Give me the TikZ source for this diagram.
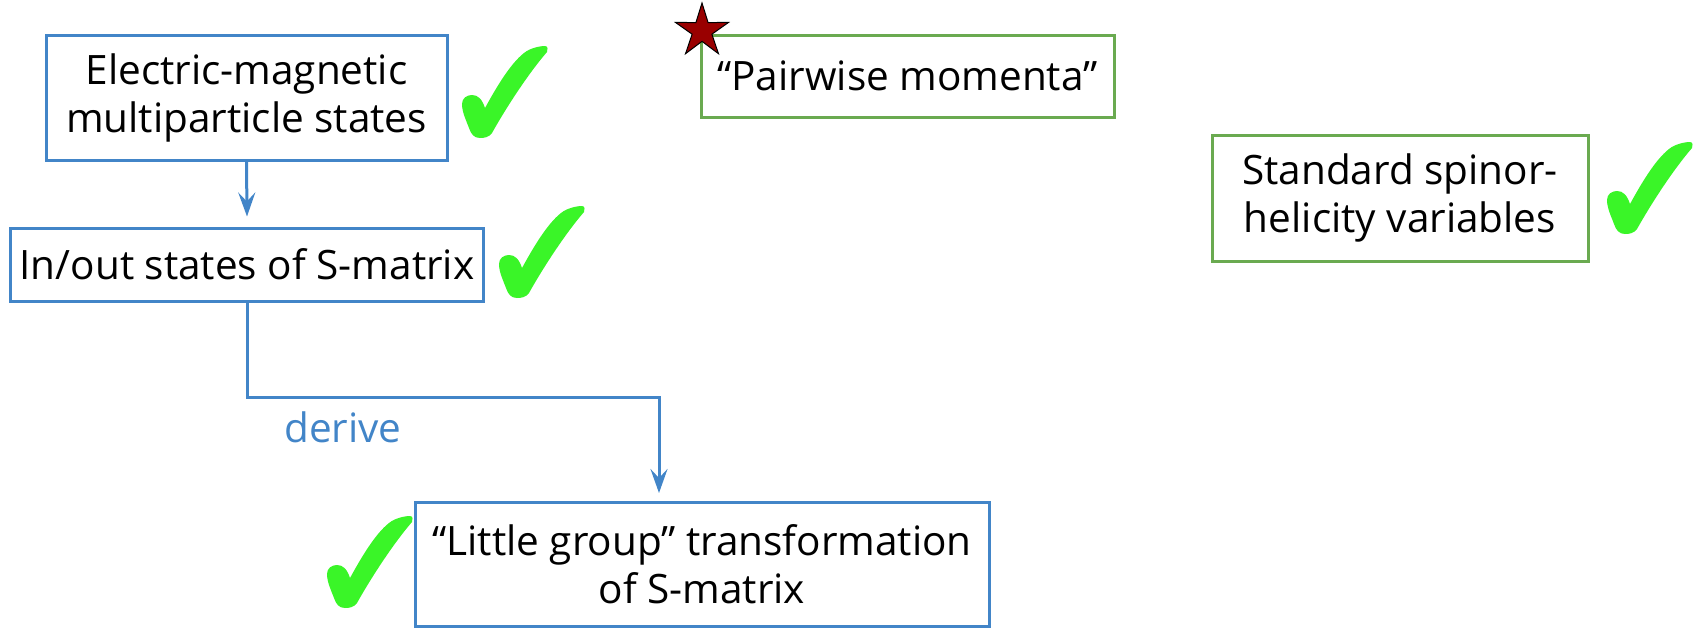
\documentclass[tikz,border=0pt]{standalone}
\usepackage{fontspec}
\setmainfont{Open Sans}
\usetikzlibrary{arrows.meta,shapes.geometric}

\definecolor{flowblue}{RGB}{66,133,200}
\definecolor{boxgreen}{RGB}{106,170,80}
\definecolor{tickgreen}{RGB}{58,245,40}
\definecolor{starred}{RGB}{153,0,0}

\tikzset{
  x=1pt, y=-1pt,
  bigtext/.style={font=\fontsize{40.5}{48}\selectfont},
  flowbox/.style={draw=flowblue, line width=3pt, inner sep=0pt, align=center, bigtext},
  notebox/.style={draw=boxgreen, line width=3pt, inner sep=0pt, align=center, bigtext},
  flowarrow/.style={draw=flowblue, line width=3pt,
    -{Stealth[length=24pt,width=17pt,inset=9pt]}},
  % brush-stroke check mark, 85 x 92 units, origin at its top-left corner
  tick/.pic={
    \fill[tickgreen]
      (18,92) .. controls (12,92) and (9,88) .. (7,82)
      .. controls (4,74) and (0,66) .. (0,58)
      .. controls (0,52) and (5,49) .. (10,49)
      .. controls (16,49) and (20,53) .. (23,62)
      .. controls (34,42) and (48,18) .. (62,7)
      .. controls (68,2) and (78,0) .. (83,0)
      .. controls (86,0) and (86,4) .. (85,6)
      .. controls (66,28) and (44,62) .. (30,87)
      .. controls (27,91) and (23,92) .. (18,92) -- cycle;
  }
}

\begin{document}
\begin{tikzpicture}
\useasboundingbox (0,0) rectangle (1694,627);

% left column: flow of derivation
\node[flowbox, minimum width=401pt, minimum height=125pt] (em) at (246.5,97.5)
  {Electric-magnetic\\multiparticle states};
\node[flowbox, minimum width=473pt, minimum height=73pt] (io) at (247,264.5)
  {In/out states of S-matrix};
\node[flowbox, minimum width=574pt, minimum height=124pt] (lg) at (702,564)
  {“Little group” transformation\\of S-matrix};

\draw[flowarrow] (em.south) -- ([yshift=10pt]io.north);

\coordinate (bend) at (659,397);
\coordinate (tip) at (659,493);
\draw[flowarrow] (io.south) |- (bend) -- (tip);
\node[bigtext, text=flowblue, anchor=base] (dv) at (343,442) {derive};

% right side boxes
\node[notebox, minimum width=413pt, minimum height=82pt] (pm) at (907.5,76)
  {“Pairwise momenta”};
\node[notebox, minimum width=376pt, minimum height=126pt] (sh) at (1400,198)
  {Standard spinor-\\helicity variables};

% star marker on the corner of the pairwise-momenta box
\node[star, star points=5, star point ratio=2.7, minimum size=56pt, inner sep=0pt,
      fill=starred, draw=black, line width=1pt] (st) at (702,31) {};

% check marks
\pic at (462,46) {tick};
\pic at (499,206) {tick};
\pic at (327,516) {tick};
\pic at (1607,142) {tick};
\end{tikzpicture}
\end{document}
